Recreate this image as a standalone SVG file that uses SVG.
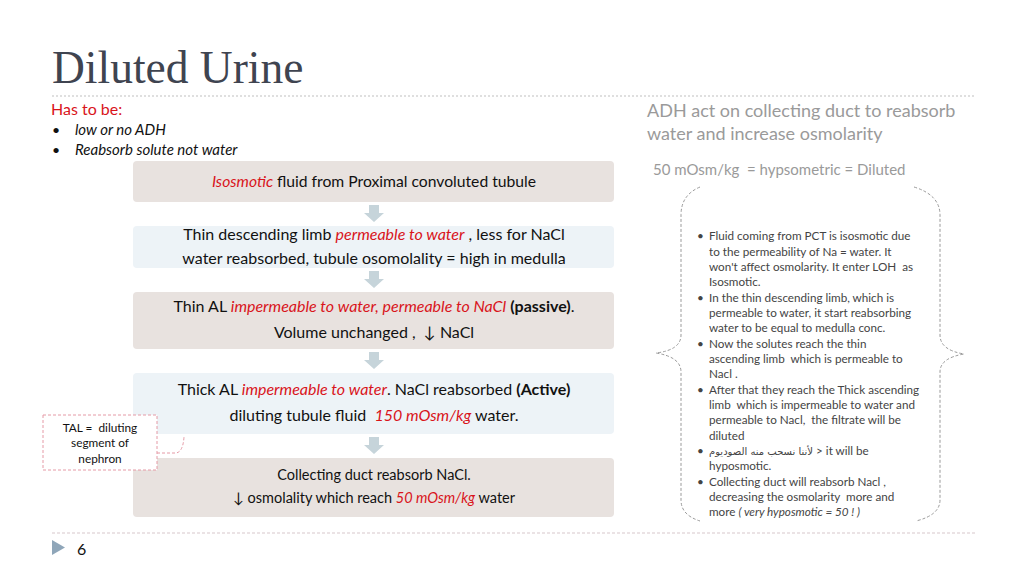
<svg xmlns="http://www.w3.org/2000/svg" width="1024" height="576" viewBox="0 0 1024 576">
<style>
text{white-space:pre}
.t{font-family:Lato,"Open Sans","DejaVu Sans",sans-serif;fill:#111}
.r{fill:#d9141b;font-style:italic}
.b{font-weight:bold}
.beige{fill:#e8e2df}
.blue{fill:#edf3f7}
.arr{fill:#c6d4da}
.side{font-family:Lato,"DejaVu Sans","Noto Sans",sans-serif;font-size:11.7px;fill:#444}
.grey{font-family:Lato,"Open Sans",sans-serif;fill:#9a9a9a}
.brace{fill:none;stroke:#9a9a9a;stroke-width:1;stroke-dasharray:3 2}
</style>
<rect width="1024" height="576" fill="#fff"/>
<text x="52" y="83" font-family="'Liberation Serif','DejaVu Serif',serif" font-size="45.5" fill="#3f4450">Diluted Urine</text>
<line x1="52" y1="96" x2="975" y2="96" stroke="#c0c0c0" stroke-width="1.2" stroke-dasharray="2 2"/>
<line x1="52" y1="533" x2="975" y2="533" stroke="#d8c8cc" stroke-width="1.2" stroke-dasharray="3 2"/>
<polygon points="52,540 65,547.5 52,555" fill="#8fa6b9"/>
<text class="t" x="77" y="555" font-size="16" fill="#333">6</text>

<g id="intro">
<text class="t" x="51" y="115" font-size="16" style="fill:#d9141b">Has to be:</text>
<text class="t" x="52" y="135" font-size="14">•</text>
<text class="t" x="75" y="135" font-size="15" font-style="italic">low or no ADH</text>
<text class="t" x="52" y="155" font-size="14">•</text>
<text class="t" x="75" y="155" font-size="15" font-style="italic">Reabsorb solute not water</text>
</g>

<g id="adh-note">
<text class="grey" x="647" y="117" font-size="18">ADH act on collecting duct to reabsorb</text>
<text class="grey" x="647" y="140" font-size="18">water and increase osmolarity</text>
<text class="grey" x="653" y="175" font-size="15">50 mOsm/kg  = hypsometric = Diluted</text>
</g>

<g id="connectors">
<polygon class="arr" points="369,205 379,205 379,213 384,213 374,222 364,213 369,213"/>
<polygon class="arr" points="369,271 379,271 379,279 384,279 374,288 364,279 369,279"/>
<polygon class="arr" points="369,352 379,352 379,360 384,360 374,369 364,360 369,360"/>
<polygon class="arr" points="369,437 379,437 379,445 384,445 374,454 364,445 369,445"/>
<path d="M157 453 L176 453 Q183 452 184 437" fill="none" stroke="#e59aa6" stroke-width="1" stroke-dasharray="3 2"/>
</g>

<g id="box1">
<rect class="beige" x="133" y="161" width="481" height="41" rx="4"/>
<text class="t" x="374" y="187" font-size="15.7" text-anchor="middle"><tspan class="r">Isosmotic</tspan> fluid from Proximal convoluted tubule</text>
</g>
<g id="box2">
<rect class="blue" x="133" y="226" width="481" height="42" rx="4"/>
<text class="t" x="374" y="240" font-size="16" text-anchor="middle">Thin descending limb <tspan class="r">permeable to water</tspan> , less for NaCl</text>
<text class="t" x="374" y="264" font-size="16" text-anchor="middle">water reabsorbed, tubule osomolality = high in medulla</text>
</g>
<g id="box3">
<rect class="beige" x="133" y="292" width="481" height="57" rx="4"/>
<text class="t" x="374" y="312" font-size="16" text-anchor="middle">Thin AL <tspan class="r">impermeable to water, permeable to NaCl</tspan> <tspan class="b">(passive)</tspan>.</text>
<text class="t" x="374" y="338" font-size="16" text-anchor="middle">Volume unchanged ,  ↓ NaCl</text>
</g>
<g id="box4">
<rect class="blue" x="133" y="373" width="481" height="61" rx="4"/>
<text class="t" x="374" y="395" font-size="16" text-anchor="middle">Thick AL <tspan class="r">impermeable to water</tspan>. NaCl reabsorbed <tspan class="b">(Active)</tspan></text>
<text class="t" x="374" y="421" font-size="16" text-anchor="middle">diluting tubule fluid  <tspan class="r">150 mOsm/kg</tspan> water.</text>
</g>
<g id="box5">
<rect class="beige" x="133" y="458" width="481" height="59" rx="4"/>
<text class="t" x="374" y="480" font-size="14.5" text-anchor="middle">Collecting duct reabsorb NaCl.</text>
<text class="t" x="374" y="503" font-size="14.5" text-anchor="middle">↓ osmolality which reach <tspan class="r">50 mOsm/kg</tspan> water</text>
</g>

<g id="tal-note">
<rect x="43" y="415" width="114" height="55" fill="#fff" stroke="#e59aa6" stroke-width="1" stroke-dasharray="3 2"/>
<text class="t" x="100" y="432" font-size="11.8" text-anchor="middle">TAL =  diluting</text>
<text class="t" x="100" y="447" font-size="11.8" text-anchor="middle">segment of</text>
<text class="t" x="100" y="463" font-size="11.8" text-anchor="middle">nephron</text>
</g>

<g id="explanation">
<path class="brace" d="M700 187 Q681 195 681 215 L681 335 Q681 350 656 353 Q681 357 681 372 L681 500 Q681 515 700 521"/>
<path class="brace" d="M914 187 Q940 195 940 215 L940 335 Q940 350 964 354 Q940 358 940 372 L940 500 Q940 515 916 521"/>
<g class="side">
<text x="697" y="240">•</text><text x="709" y="240">Fluid coming from PCT is isosmotic due</text>
<text x="709" y="256">to the permeability of Na = water. It</text>
<text x="709" y="271">won't affect osmolarity. It enter LOH  as</text>
<text x="709" y="286">Isosmotic.</text>
<text x="697" y="302">•</text><text x="709" y="302">In the thin descending limb, which is</text>
<text x="709" y="317">permeable to water, it start reabsorbing</text>
<text x="709" y="332">water to be equal to medulla conc.</text>
<text x="697" y="348">•</text><text x="709" y="348">Now the solutes reach the thin</text>
<text x="709" y="363">ascending limb  which is permeable to</text>
<text x="709" y="378">Nacl .</text>
<text x="697" y="394">•</text><text x="709" y="394">After that they reach the Thick ascending</text>
<text x="709" y="409">limb  which is impermeable to water and</text>
<text x="709" y="424">permeable to Nacl,  the filtrate will be</text>
<text x="709" y="440">diluted</text>
<text x="697" y="455">•</text><text x="709" y="455"><tspan font-family="'DejaVu Sans','Noto Sans',sans-serif" font-size="10">لأننا نسحب منه الصوديوم</tspan> &gt; it will be</text>
<text x="709" y="470">hyposmotic.</text>
<text x="697" y="486">•</text><text x="709" y="486">Collecting duct will reabsorb Nacl ,</text>
<text x="709" y="501">decreasing the osmolarity  more and</text>
<text x="709" y="516">more <tspan font-style="italic">( very hyposmotic = 50 ! )</tspan></text>
</g>
</g>
</svg>
